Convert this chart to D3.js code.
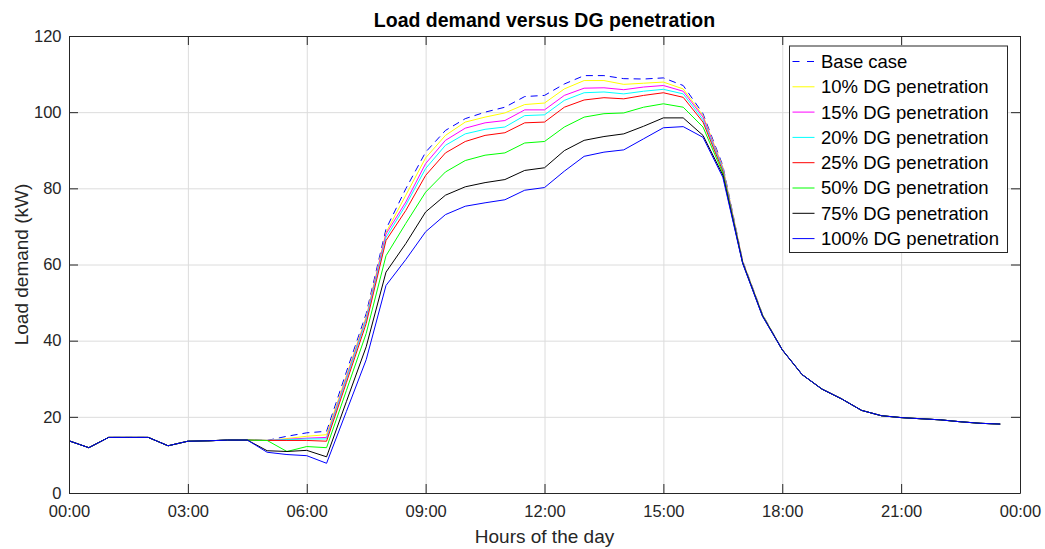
<!DOCTYPE html>
<html>
<head>
<meta charset="utf-8">
<script src="https://cdn.jsdelivr.net/npm/d3@7"></script>
<style>
  body { margin: 0; background: #fff; }
  svg { font-family: "Liberation Sans", Arial, sans-serif; }
  .axis path, .axis line { stroke: #262626; }
  .axis text { fill: #262626; font-size: 16.5px; }
  .grid line { stroke: #dcdcdc; }
  .grid path { display: none; }
</style>
</head>
<body>
<svg width="1045" height="549"></svg>
<script>
// half hour samples over the day
const times = ["00:00", "00:30", "01:00", "01:30", "02:00", "02:30", "03:00", "03:30",
  "04:00", "04:30", "05:00", "05:30", "06:00", "06:30", "07:00", "07:30",
  "08:00", "08:30", "09:00", "09:30", "10:00", "10:30", "11:00", "11:30",
  "12:00", "12:30", "13:00", "13:30", "14:00", "14:30", "15:00", "15:30",
  "16:00", "16:30", "17:00", "17:30", "18:00", "18:30", "19:00", "19:30",
  "20:00", "20:30", "21:00", "21:30", "22:00", "22:30", "23:00", "23:30"];

// load demand in kW for each case
const baseCase = [13.7, 11.9, 14.6, 14.6, 14.6, 12.4, 13.6, 13.7, 13.9, 13.9, 13.8, 14.9,
  15.8, 16.2, 31.8, 47.1, 69.3, 79.9, 89.5, 95.2, 98.3, 100.0, 101.3, 104.1,
  104.4, 107.4, 109.6, 109.6, 108.8, 108.7, 109.0, 107.0, 99.6, 86.0, 61.0, 47.0,
  37.6, 31.1, 27.3, 24.7, 21.7, 20.3, 19.8, 19.5, 19.2, 18.7, 18.3, 18.1];
const dg10 = [13.7, 11.9, 14.6, 14.6, 14.6, 12.4, 13.6, 13.7, 13.9, 13.9, 13.8, 14.3,
  14.9, 15.3, 30.8, 46.3, 68.4, 78.2, 88.0, 93.9, 97.4, 98.7, 99.8, 102.0,
  102.4, 106.1, 108.3, 108.3, 107.3, 107.6, 107.9, 106.1, 99.1, 85.6, 60.9, 46.9,
  37.6, 31.1, 27.3, 24.7, 21.7, 20.3, 19.8, 19.5, 19.2, 18.7, 18.3, 18.1];
const dg15 = [13.7, 11.9, 14.6, 14.6, 14.6, 12.4, 13.6, 13.7, 13.9, 13.9, 13.8, 14.1,
  14.4, 14.6, 30.3, 45.8, 68.0, 76.4, 86.5, 92.6, 95.8, 97.2, 97.8, 100.6,
  100.6, 104.4, 106.3, 106.4, 105.9, 106.6, 107.0, 105.5, 98.7, 85.3, 60.8, 46.8,
  37.6, 31.1, 27.3, 24.7, 21.7, 20.3, 19.8, 19.5, 19.2, 18.7, 18.3, 18.1];
const dg20 = [13.7, 11.9, 14.6, 14.6, 14.6, 12.4, 13.6, 13.7, 13.9, 13.9, 13.8, 14.0,
  14.2, 14.2, 29.8, 45.4, 67.1, 75.6, 85.2, 91.3, 94.3, 95.5, 96.1, 99.1,
  99.3, 103.1, 105.1, 105.3, 104.8, 105.5, 106.0, 104.8, 98.0, 85.0, 60.7, 46.8,
  37.6, 31.1, 27.3, 24.7, 21.7, 20.3, 19.8, 19.5, 19.2, 18.7, 18.3, 18.1];
const dg25 = [13.7, 11.9, 14.6, 14.6, 14.6, 12.4, 13.6, 13.7, 13.9, 13.9, 13.8, 13.8,
  13.8, 13.6, 29.0, 44.5, 66.3, 74.2, 83.4, 89.3, 92.3, 93.9, 94.6, 97.2,
  97.4, 101.3, 103.2, 103.8, 103.5, 104.4, 105.1, 103.9, 97.4, 84.5, 60.6, 46.7,
  37.6, 31.1, 27.3, 24.7, 21.7, 20.3, 19.8, 19.5, 19.2, 18.7, 18.3, 18.1];
const dg50 = [13.7, 11.9, 14.6, 14.6, 14.6, 12.4, 13.6, 13.7, 13.9, 13.9, 13.8, 10.9,
  12.2, 11.9, 26.9, 41.9, 62.3, 70.8, 79.0, 84.3, 87.3, 88.7, 89.3, 91.9,
  92.3, 96.1, 98.7, 99.6, 99.8, 101.3, 102.2, 101.3, 96.1, 84.0, 60.5, 46.6,
  37.6, 31.1, 27.3, 24.7, 21.7, 20.3, 19.8, 19.5, 19.2, 18.7, 18.3, 18.1];
const dg75 = [13.7, 11.9, 14.6, 14.6, 14.6, 12.4, 13.6, 13.7, 13.9, 13.9, 11.1, 10.9,
  11.2, 9.5, 24.0, 38.4, 58.0, 65.5, 73.8, 78.2, 80.4, 81.5, 82.3, 84.7,
  85.4, 89.9, 92.6, 93.6, 94.3, 96.3, 98.5, 98.5, 93.9, 83.5, 60.4, 46.5,
  37.6, 31.1, 27.3, 24.7, 21.7, 20.3, 19.8, 19.5, 19.2, 18.7, 18.3, 18.1];
const dg100 = [13.7, 11.9, 14.6, 14.6, 14.6, 12.4, 13.6, 13.7, 13.9, 13.9, 10.7, 10.1,
  9.8, 7.8, 21.4, 35.0, 54.5, 61.3, 68.6, 73.1, 75.3, 76.2, 77.0, 79.5,
  80.2, 84.5, 88.4, 89.5, 90.1, 93.0, 95.9, 96.2, 93.4, 82.9, 60.3, 46.4,
  37.6, 31.1, 27.3, 24.7, 21.7, 20.3, 19.8, 19.5, 19.2, 18.7, 18.3, 18.1];

const seriesNames = ["Base case", "10% DG penetration", "15% DG penetration",
  "20% DG penetration", "25% DG penetration", "50% DG penetration",
  "75% DG penetration", "100% DG penetration"];
const seriesValues = [baseCase, dg10, dg15, dg20, dg25, dg50, dg75, dg100];
const colors = ["#0000ff", "#ffff00", "#ff00ff", "#00ffff", "#ff0000", "#00ff00", "#000000", "#0000ff"];

const xTickHours = [0, 3, 6, 9, 12, 15, 18, 21, 24];
const xTickLabels = ["00:00", "03:00", "06:00", "09:00", "12:00", "15:00", "18:00", "21:00", "00:00"];
const yTicks = [0, 20, 40, 60, 80, 100, 120];

// margin convention
const svg = d3.select("svg"),
  margin = { top: 36, right: 25, bottom: 56, left: 69 },
  width = +svg.attr("width") - margin.left - margin.right,
  height = +svg.attr("height") - margin.top - margin.bottom;

svg.append("rect").attr("width", 1045).attr("height", 549).attr("fill", "#fff");

// "hh:mm" -> hours
const toHours = (s) => {
  const p = s.split(":");
  return +p[0] + p[1] / 60;
};

const x = d3.scaleLinear().domain([0, 24]).range([0, width]),
  y = d3.scaleLinear().domain([0, 120]).range([height, 0]);

const g = svg.append("g")
  .attr("transform", "translate(" + margin.left + "," + margin.top + ")");

// grid lines
g.append("g")
  .attr("class", "grid")
  .attr("transform", "translate(0," + height + ")")
  .call(d3.axisBottom(x).tickValues(xTickHours.slice(1, -1)).tickSize(-height).tickFormat(""));
g.append("g")
  .attr("class", "grid")
  .call(d3.axisLeft(y).tickValues(yTicks.slice(1, -1)).tickSize(-width).tickFormat(""));

// lines, 100% drawn last so it sits on top
const line = d3.line()
  .x((d) => x(d.t))
  .y((d) => y(d.v));

seriesValues.forEach((vals, i) => {
  const pts = times.map((t, j) => ({ t: toHours(t), v: vals[j] }));
  g.append("path")
    .datum(pts)
    .attr("fill", "none")
    .attr("stroke", colors[i])
    .attr("stroke-width", 1)
    .attr("stroke-dasharray", i === 0 ? "7,5" : null)
    .attr("d", line);
});

// axes with inward ticks on all four sides (box on)
const tickLen = 9;
g.append("g")
  .attr("class", "axis")
  .attr("transform", "translate(0," + height + ")")
  .call(d3.axisBottom(x).tickValues(xTickHours)
    .tickFormat((d, i) => xTickLabels[i])
    .tickSizeInner(-tickLen).tickSizeOuter(0).tickPadding(12));
g.append("g")
  .attr("class", "axis")
  .call(d3.axisTop(x).tickValues(xTickHours).tickFormat("")
    .tickSizeInner(-tickLen).tickSizeOuter(0));
g.append("g")
  .attr("class", "axis")
  .call(d3.axisLeft(y).tickValues(yTicks)
    .tickSizeInner(-tickLen).tickSizeOuter(0).tickPadding(7.5));
g.append("g")
  .attr("class", "axis")
  .attr("transform", "translate(" + width + ",0)")
  .call(d3.axisRight(y).tickValues(yTicks).tickFormat("")
    .tickSizeInner(-tickLen).tickSizeOuter(0));

// title and axis labels
g.append("text")
  .attr("x", width / 2)
  .attr("y", -9.5)
  .attr("text-anchor", "middle")
  .style("font-size", "19.5px")
  .style("font-weight", "bold")
  .style("fill", "#000")
  .text("Load demand versus DG penetration");

g.append("text")
  .attr("x", width / 2)
  .attr("y", 507)
  .attr("text-anchor", "middle")
  .style("font-size", "19px")
  .style("fill", "#262626")
  .text("Hours of the day");

g.append("text")
  .attr("transform", "rotate(-90)")
  .attr("x", -height / 2)
  .attr("y", -41.5)
  .attr("text-anchor", "middle")
  .style("font-size", "19px")
  .style("fill", "#262626")
  .text("Load demand (kW)");

// legend
const legend = g.append("g").attr("transform", "translate(720.5,10)");
legend.append("rect")
  .attr("width", 218)
  .attr("height", 206.5)
  .attr("fill", "#fff")
  .attr("stroke", "#262626")
  .attr("stroke-width", 1);

seriesNames.forEach((name, i) => {
  const row = legend.append("g").attr("transform", "translate(0," + (15.5 + i * 25.3) + ")");
  row.append("line")
    .attr("x1", 3)
    .attr("x2", 25)
    .attr("stroke", colors[i])
    .attr("stroke-width", 1)
    .attr("stroke-dasharray", i === 0 ? "7,7.5" : null);
  row.append("text")
    .attr("x", 31.5)
    .attr("dy", "0.35em")
    .style("font-size", "18.5px")
    .style("fill", "#000")
    .text(name);
});
</script>
</body>
</html>
